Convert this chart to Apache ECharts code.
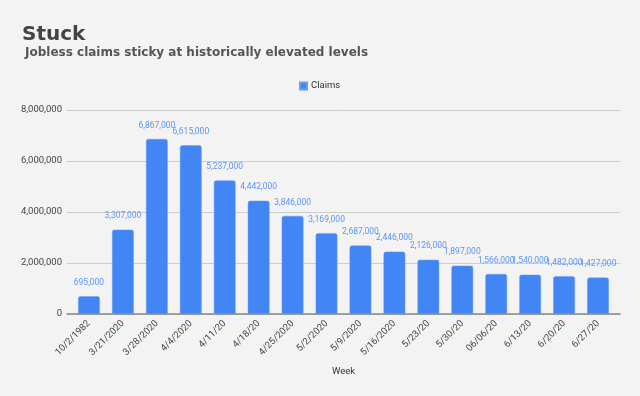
<!DOCTYPE html>
<html><head><meta charset="utf-8">
<script src="https://cdn.jsdelivr.net/npm/echarts@6/dist/echarts.min.js"></script>
<style>html,body{margin:0;padding:0;background:#f3f3f3}#c{width:640px;height:396px}</style>
</head><body><div id="c"></div>
<script>
const categories = ["10/2/1982","3/21/2020","3/28/2020","4/4/2020","4/11/20","4/18/20","4/25/2020","5/2/2020","5/9/2020","5/16/2020","5/23/20","5/30/20","06/06/20","6/13/20","6/20/20","6/27/20"];
const claims = [695000,3307000,6867000,6615000,5237000,4442000,3846000,3169000,2687000,2446000,2126000,1897000,1566000,1540000,1482000,1427000];
const yTicks = [0,2000000,4000000,6000000,8000000];
const fmt = v => v.toLocaleString('en-US');
const chart = echarts.init(document.getElementById('c'));
chart.setOption({
  backgroundColor:'#f3f3f3',
  animation:false,
  title:[
    {text:'Stuck', left:22, top:25, padding:0, textStyle:{fontFamily:'DejaVu Sans', fontWeight:'bold', fontSize:20, color:'#444'}},
    {text:'Jobless claims sticky at historically elevated levels', left:25, top:47, padding:0, textStyle:{fontFamily:'DejaVu Sans', fontWeight:'bold', fontSize:12, color:'#555'}}
  ],
  legend:{top:81, left:299, padding:0, itemWidth:7, itemHeight:7, itemGap:6, icon:'rect', textStyle:{fontFamily:'Roboto', fontSize:9.5, color:'#333', padding:[0,0,0,-1]}, data:['Claims']},
  grid:[
    {left:67, right:20, top:110, bottom:82},
    {left:72, right:25, top:110, bottom:82}
  ],
  xAxis:[
    {type:'value', gridIndex:0, min:0, max:1, show:true, axisLine:{show:true, onZero:false, lineStyle:{color:'#888', width:1.5}}, axisTick:{show:false}, axisLabel:{show:false}, splitLine:{show:false}, z:10,
     name:'Week', nameLocation:'middle', nameGap:53, nameTextStyle:{fontFamily:'Roboto', fontSize:9.5, color:'#333'}},
    {type:'category', gridIndex:1, data:categories, axisLine:{show:false}, axisTick:{show:false},
     axisLabel:{rotate:45, interval:0, fontFamily:'Roboto', fontSize:9.5, color:'#444', margin:8}}
  ],
  yAxis:[
    {type:'value', gridIndex:0, min:0, max:8000000, interval:2000000,
     axisLabel:{fontFamily:'Roboto', fontSize:9.5, color:'#444', margin:5, formatter:v=>fmt(v)},
     splitLine:{lineStyle:{color:'#ccc'}}, axisLine:{show:false}, axisTick:{show:false}},
    {type:'value', gridIndex:1, min:0, max:8000000, interval:2000000, show:false, splitLine:{show:false}}
  ],
  series:[{name:'Claims', type:'bar', xAxisIndex:1, yAxisIndex:1, data:claims, barCategoryGap:'36%',
    itemStyle:{color:'#4285f4', borderRadius:[2,2,0,0], borderColor:'#6a9ef6', borderWidth:0.5},
    label:{show:true, position:'top', distance:9, fontFamily:'Roboto', fontSize:8.5, color:'#5b95f5', formatter:p=>fmt(p.value)}}]
});
</script></body></html>
